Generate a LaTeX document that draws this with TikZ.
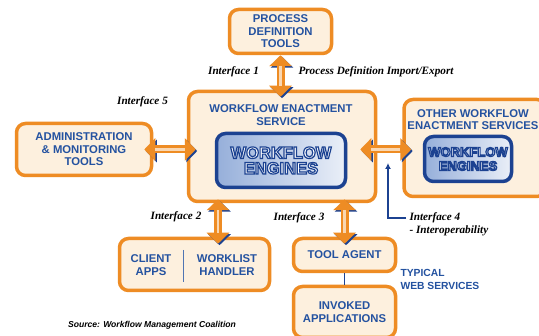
\documentclass[tikz,border=0pt]{standalone}
\usepackage{fontspec}
\setmainfont{Liberation Serif}
\setsansfont{Liberation Sans}
\usetikzlibrary{arrows.meta,positioning,calc,shadows}
\tikzset{>=latex}

\definecolor{wforange}{RGB}{238,140,36}
\definecolor{wfcream}{RGB}{253,240,222}
\definecolor{wfblue}{RGB}{36,82,160}
\definecolor{wfdark}{RGB}{28,66,145}
\definecolor{wflight}{RGB}{150,175,218}

% white letters with a dark blue outline
\newcommand\outlined[1]{\special{pdf:literal direct 2 Tr 1.2 w 0.11 0.26 0.57 RG}#1\special{pdf:literal direct 0 Tr}}

\tikzset{
  boxtext/.style={align=center, text=wfblue, font=\sffamily\bfseries\fontsize{11.3}{12.5}\selectfont},
  box/.style={boxtext, draw=wforange, line width=3.5pt, fill=wfcream, rounded corners=9pt, inner sep=0pt},
  engine/.style={draw=wfdark, line width=3.5pt, rounded corners=9pt, left color=wflight, right color=wflight!20!white, align=center, text=white, inner sep=0pt,
    drop shadow={shadow xshift=1.5pt, shadow yshift=-1.5pt, fill=wfdark!60}},
  iface/.style={font=\rmfamily\bfseries\itshape\fontsize{11.2}{13}\selectfont},
  fatarrow/.style={draw=wforange, line width=8pt, {Triangle[width=22pt,length=11pt]}-{Triangle[width=22pt,length=11pt]},
    preaction={draw=wfdark, transform canvas={shift={(1.5pt,-1.5pt)}}},
    postaction={draw=wforange!35!white, line width=2.5pt, -, shorten <=11pt, shorten >=11pt}},
  bluelink/.style={draw=wfdark, line width=1.5pt}
}

\begin{document}
\begin{tikzpicture}[x=1pt, y=-1pt]
      \clip (0,0) rectangle (539,336);
      \fill[white] (0,0) rectangle (539,336);
      % boxes
      \node[box, minimum width=102pt, minimum height=44pt] (pdt) at (280.5,31.5) {PROCESS\\DEFINITION\\TOOLS};
      \node[box, minimum width=187pt, minimum height=110pt] (wes) at (282,146.5) {};
      \node[boxtext] (westitle) at (281,115) {WORKFLOW ENACTMENT\\SERVICE};
      \node[engine, minimum width=129pt, minimum height=54pt, font=\sffamily\bfseries\fontsize{16.5}{15.5}\selectfont] (wfe) at (281,160.5) {\outlined{WORKFLOW}\\\outlined{ENGINES}};
      \node[box, minimum width=135pt, minimum height=52pt] (adm) at (84,149.5) {ADMINISTRATION\\\& MONITORING\\TOOLS};
      \node[box, minimum width=142pt, minimum height=97pt] (owes) at (475,148) {};
      \node[boxtext] (owestitle) at (473,119.5) {OTHER WORKFLOW\\ENACTMENT SERVICES};
      \node[engine, minimum width=87pt, minimum height=45pt, font=\sffamily\bfseries\fontsize{13}{14}\selectfont] (owfe) at (468,159) {\outlined{WORKFLOW}\\\outlined{ENGINES}};
      \node[box, minimum width=150pt, minimum height=52pt] (client) at (194.5,264.5) {};
      \node[boxtext] (apps) at (151,265) {CLIENT\\APPS};
      \node[boxtext] (worklist) at (227,265) {WORKLIST\\HANDLER};
      \draw[wfblue!80, line width=0.8pt] (183,250) -- (183,282);
      \node[box, minimum width=102pt, minimum height=33pt] (tool) at (344.5,255) {TOOL AGENT};
      \node[box, minimum width=102pt, minimum height=51pt] (inv) at (344.5,312) {INVOKED\\APPLICATIONS};
      \draw[bluelink] (tool) -- (inv);
      % interfaces
      \draw[fatarrow] (pdt.south) -- ($(pdt.south |- wes.north)+(0,7)$);
      \draw[fatarrow] ($(adm.east)+(-9,0)$) -- ($(adm.east -| wes.west)+(9,0)$);
      \draw[fatarrow] ($(wes.east)+(-17,3)$) -- ($(wes.east -| owes.west)+(9,3)$);
      \draw[fatarrow] ($(wes.south)+(-64,-4)$) -- ($(client.north)+(23.5,7)$);
      \draw[fatarrow] ($(tool.north |- wes.south)+(0,-4)$) -- ($(tool.north)+(0,7)$);
      \node[iface] (if1) at (233.5,72) {Interface 1};
      \node[iface, anchor=west] (pdie) at (295,72) {Process Definition Import/Export};
      \node[iface] (if5) at (142.5,102) {Interface 5};
      \node[iface] (if2) at (176,217) {Interface 2};
      \node[iface] (if3) at (299,218) {Interface 3};
      \node[iface, anchor=west] (if4) at (406,218) {Interface 4};
      \node[iface, anchor=west] (interop) at ([yshift=-13pt]if4.west) {- Interoperability};
      \coordinate (if4tip) at (388,163);
      \draw[bluelink, -{Latex[length=6pt,width=6pt]}] (if4.west) -| (if4tip);
      \node[boxtext, align=left, anchor=west, font=\sffamily\bfseries\fontsize{10.3}{13}\selectfont] (web) at (397,279.5) {TYPICAL\\WEB SERVICES};
      \node[font=\sffamily\bfseries\itshape\fontsize{8.6}{10}\selectfont] (src) at (152,325) {Source: Workflow Management Coalition};
\end{tikzpicture}
\end{document}
